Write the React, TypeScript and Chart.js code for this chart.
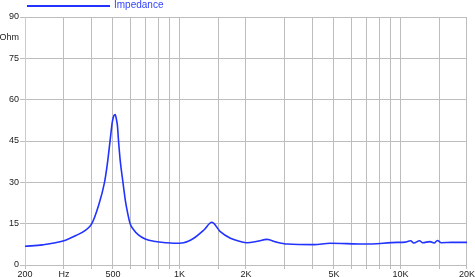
import React, { useEffect, useRef } from 'react';
import { Chart, registerables } from 'chart.js';

Chart.register(...registerables);

const seriesLabel = 'Impedance';
const freqs = [
  200, 240, 300, 340, 375, 400, 430, 458, 471, 486, 497, 505, 512, 518, 524, 530, 540, 555, 570, 584,
  598, 619, 652, 700, 779, 863, 939, 1045, 1160, 1290, 1400, 1530, 1700, 1890, 2020, 2250, 2490, 2750, 3080,
  4060, 4800, 6800, 9700, 10500, 11100, 11500, 12200, 12600, 13600, 14200, 14700, 15300, 17000, 20000,
];
const impedance = [
  6.8, 7.3, 8.8, 10.7, 12.6, 14.8, 21.5, 30, 36.3, 45.5, 52, 54.2, 54.6, 53, 50.5, 45, 37.5, 30, 23, 18.5,
  15, 12.9, 10.9, 9.4, 8.5, 8.1, 7.9, 8.1, 9.7, 12.7, 15.5, 12.1, 9.7, 8.5, 8.1, 8.6, 9.3, 8.3, 7.6,
  7.4, 7.9, 7.6, 8.2, 8.3, 8.8, 8.0, 8.8, 8.1, 8.5, 8.0, 8.9, 8.1, 8.2, 8.2,
];
const xGrid = [200, 300, 400, 500, 600, 700, 800, 900, 1000, 1500, 2000, 3000, 4000, 5000, 6000, 7000, 8000, 9000, 10000, 15000, 20000];
const xLabels: Record<number, string> = { 200: '200', 300: 'Hz', 500: '500', 1000: '1K', 2000: '2K', 5000: '5K', 10000: '10K', 20000: '20K' };
const yTicks = [0, 15, 30, 45, 60, 75, 90];
const yUnit = 'Ohm';
const yUnitAt = 82.5;

const LINE = '#2233ff';
const GRID = '#bdbdbd';
const FONT = 'Liberation Sans, Arial, sans-serif';

const legendPlugin = {
  id: 'lineLegend',
  afterDraw(chart: any) {
    const ctx = chart.ctx;
    const ds = chart.data.datasets[0];
    ctx.save();
    ctx.strokeStyle = ds.borderColor;
    ctx.lineWidth = 2;
    ctx.beginPath();
    ctx.moveTo(27, 6);
    ctx.lineTo(110, 6);
    ctx.stroke();
    ctx.fillStyle = '#3344ff';
    ctx.font = `10px ${FONT}`;
    ctx.textBaseline = 'middle';
    ctx.textAlign = 'left';
    ctx.fillText(ds.label, 114, 5.5);
    ctx.restore();
  },
};

export default function App() {
  const ref = useRef<HTMLCanvasElement | null>(null);
  useEffect(() => {
    if (!ref.current) return;
    const data = freqs.map((f, i) => ({ x: f, y: impedance[i] }));
    const chart = new Chart(ref.current, {
      type: 'line',
      data: {
        datasets: [
          {
            label: seriesLabel,
            data,
            borderColor: LINE,
            backgroundColor: LINE,
            borderWidth: 1.6,
            pointRadius: 0,
            cubicInterpolationMode: 'monotone',
            fill: false,
          },
        ],
      },
      options: {
        animation: false,
        responsive: false,
        devicePixelRatio: 1,
        layout: { padding: { top: 17, right: 0, left: 0, bottom: 0 } },
        plugins: { legend: { display: false }, tooltip: { enabled: false } },
        scales: {
          x: {
            type: 'logarithmic',
            min: 200,
            max: 20000,
            afterBuildTicks: (scale: any) => {
              scale.ticks = xGrid.map((v) => ({ value: v }));
            },
            afterFit: (scale: any) => {
              scale.height = 12;
            },
            ticks: {
              autoSkip: false,
              maxRotation: 0,
              padding: 0,
              color: '#222',
              font: { family: FONT, size: 9 },
              callback: (v: any) => xLabels[Number(v)] ?? '',
            },
            grid: { color: GRID, tickLength: 4, tickColor: GRID },
            border: { color: GRID },
          },
          y: {
            min: 0,
            max: 90,
            afterBuildTicks: (scale: any) => {
              scale.ticks = [...yTicks, yUnitAt].sort((a, b) => a - b).map((v) => ({ value: v }));
            },
            afterFit: (scale: any) => {
              scale.width = 25;
            },
            ticks: {
              padding: 1,
              color: '#222',
              font: { family: FONT, size: 9 },
              callback: (v: any) => (Number(v) === yUnitAt ? yUnit : String(v)),
            },
            grid: {
              color: (c: any) => (c.tick && c.tick.value === yUnitAt ? 'rgba(0,0,0,0)' : GRID),
              tickColor: (c: any) => (c.tick && c.tick.value === yUnitAt ? 'rgba(0,0,0,0)' : GRID),
              tickLength: 5,
            },
            border: { color: '#cccccc' },
          },
        },
      } as any,
      plugins: [legendPlugin],
    });
    return () => chart.destroy();
  }, []);
  return (
    <div style={{ position: 'absolute', left: 0, top: 0, width: 475, height: 277 }}>
      <canvas ref={ref} width={475} height={277} />
    </div>
  );
}
